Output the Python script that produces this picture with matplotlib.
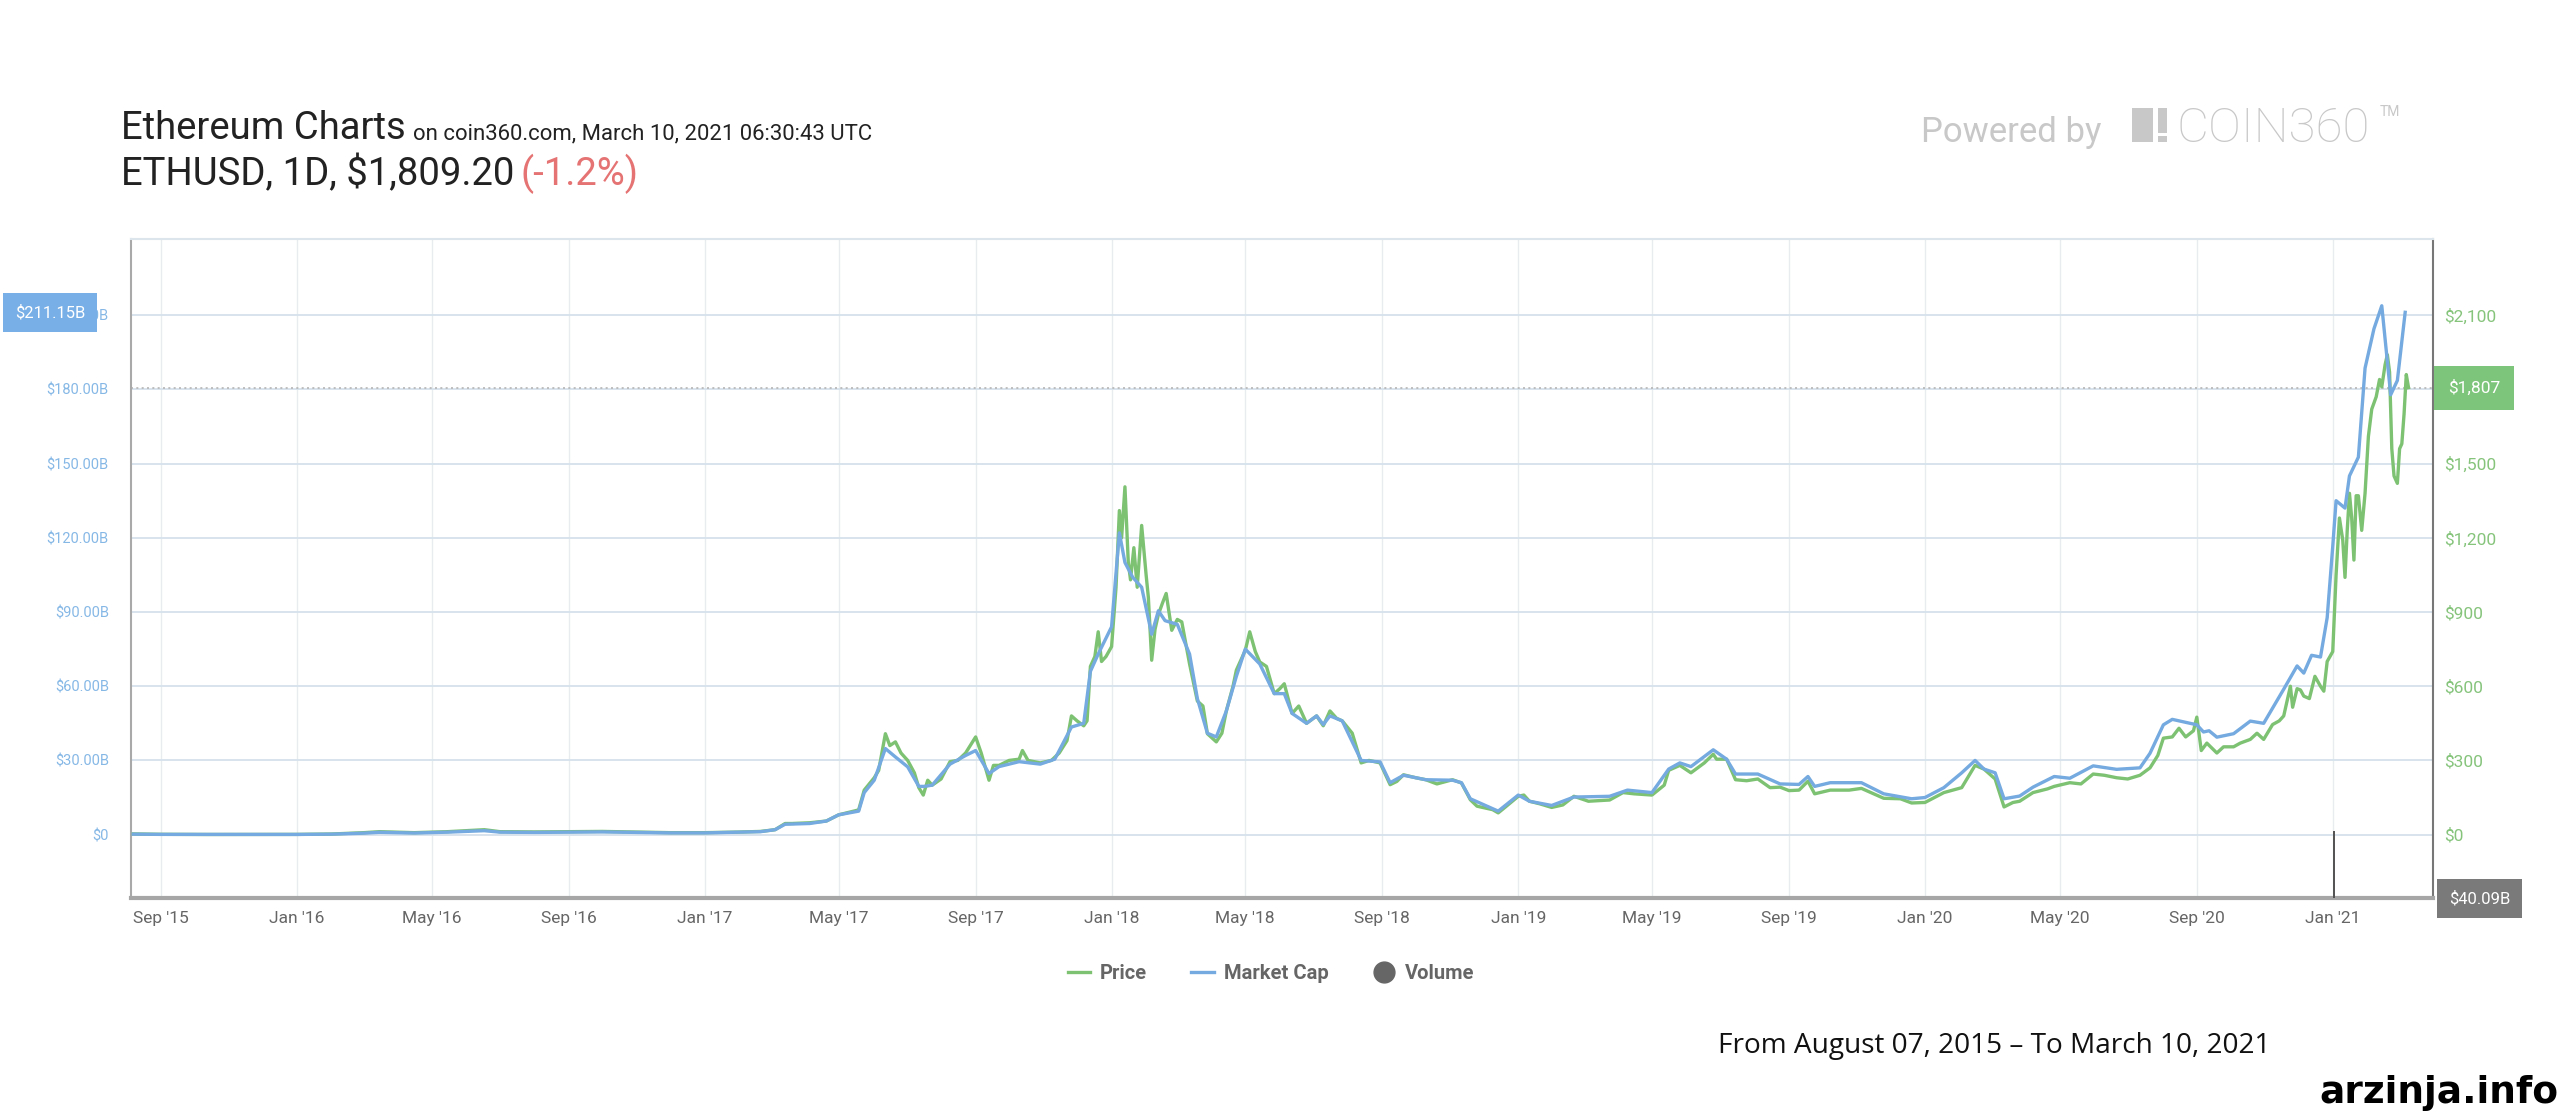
import matplotlib
matplotlib.use("Agg")
import matplotlib.pyplot as plt
import matplotlib.dates as mdates
import matplotlib.transforms as mtransforms
from matplotlib.lines import Line2D
from matplotlib.patches import Rectangle
import pandas as pd

plt.rcParams['font.family'] = ['Roboto', 'DejaVu Sans']

# price in USD (green, right axis)
price_dates = [
    "2015-08-07", "2015-09-01", "2015-10-15", "2015-12-01", "2016-01-01", "2016-02-01", "2016-03-01",
    "2016-03-15", "2016-04-15", "2016-05-15", "2016-06-17", "2016-07-01", "2016-08-01", "2016-09-01",
    "2016-10-01", "2016-11-01", "2016-12-01", "2017-01-01", "2017-02-01", "2017-02-20", "2017-03-05",
    "2017-03-14", "2017-03-20", "2017-04-05", "2017-04-20", "2017-05-01", "2017-05-10", "2017-05-19",
    "2017-05-24", "2017-06-02", "2017-06-06", "2017-06-12", "2017-06-16", "2017-06-21", "2017-06-26",
    "2017-07-02", "2017-07-08", "2017-07-12", "2017-07-16", "2017-07-20", "2017-07-24", "2017-08-01",
    "2017-08-09", "2017-08-16", "2017-08-23", "2017-09-01", "2017-09-06", "2017-09-13", "2017-09-17",
    "2017-09-22", "2017-10-01", "2017-10-10", "2017-10-13", "2017-10-18", "2017-10-29", "2017-11-08",
    "2017-11-15", "2017-11-22", "2017-11-26", "2017-12-01", "2017-12-07", "2017-12-10", "2017-12-13",
    "2017-12-17", "2017-12-20", "2017-12-23", "2017-12-27", "2018-01-01", "2018-01-05", "2018-01-08",
    "2018-01-10", "2018-01-13", "2018-01-16", "2018-01-18", "2018-01-21", "2018-01-24", "2018-01-28",
    "2018-02-01", "2018-02-03", "2018-02-06", "2018-02-09", "2018-02-12", "2018-02-16", "2018-02-19",
    "2018-02-24", "2018-03-01", "2018-03-05", "2018-03-12", "2018-03-19", "2018-03-24", "2018-03-28",
    "2018-04-05", "2018-04-10", "2018-04-14", "2018-04-20", "2018-04-23", "2018-05-01", "2018-05-05",
    "2018-05-10", "2018-05-14", "2018-05-20", "2018-05-27", "2018-06-01", "2018-06-05", "2018-06-12",
    "2018-06-18", "2018-06-25", "2018-07-04", "2018-07-10", "2018-07-16", "2018-07-22", "2018-07-27",
    "2018-08-05", "2018-08-13", "2018-08-20", "2018-08-30", "2018-09-08", "2018-09-14", "2018-09-20",
    "2018-10-01", "2018-10-10", "2018-10-20", "2018-11-03", "2018-11-11", "2018-11-19", "2018-11-25",
    "2018-12-09", "2018-12-14", "2018-12-20", "2019-01-01", "2019-01-06", "2019-01-11", "2019-01-20",
    "2019-01-31", "2019-02-10", "2019-02-20", "2019-03-05", "2019-03-24", "2019-04-05", "2019-04-15",
    "2019-05-01", "2019-05-12", "2019-05-16", "2019-05-26", "2019-06-05", "2019-06-17", "2019-06-25",
    "2019-06-28", "2019-07-07", "2019-07-15", "2019-07-25", "2019-08-04", "2019-08-15", "2019-08-24",
    "2019-09-01", "2019-09-10", "2019-09-18", "2019-09-24", "2019-10-08", "2019-10-25", "2019-11-05",
    "2019-11-25", "2019-12-10", "2019-12-20", "2020-01-01", "2020-01-18", "2020-02-03", "2020-02-15",
    "2020-02-23", "2020-03-04", "2020-03-12", "2020-03-20", "2020-03-26", "2020-04-07", "2020-04-20",
    "2020-04-26", "2020-05-10", "2020-05-20", "2020-05-31", "2020-06-10", "2020-06-21", "2020-07-01",
    "2020-07-12", "2020-07-21", "2020-07-28", "2020-08-02", "2020-08-10", "2020-08-16", "2020-08-22",
    "2020-08-29", "2020-09-01", "2020-09-05", "2020-09-10", "2020-09-19", "2020-09-25", "2020-10-04",
    "2020-10-10", "2020-10-19", "2020-10-25", "2020-10-31", "2020-11-08", "2020-11-14", "2020-11-18",
    "2020-11-24", "2020-11-26", "2020-11-30", "2020-12-03", "2020-12-06", "2020-12-11", "2020-12-16",
    "2020-12-21", "2020-12-24", "2020-12-27", "2021-01-01", "2021-01-04", "2021-01-07", "2021-01-10",
    "2021-01-12", "2021-01-14", "2021-01-16", "2021-01-18", "2021-01-20", "2021-01-22", "2021-01-24",
    "2021-01-27", "2021-01-30", "2021-02-02", "2021-02-05", "2021-02-09", "2021-02-12", "2021-02-14",
    "2021-02-17", "2021-02-19", "2021-02-21", "2021-02-23", "2021-02-25", "2021-02-28", "2021-03-02",
    "2021-03-04", "2021-03-06", "2021-03-08", "2021-03-10",
]
price_vals = [
    3, 1.3, 0.6, 0.9, 1, 2.5, 8,
    12, 8, 12, 20, 12, 11, 12,
    13, 10.5, 8, 8, 10.5, 13, 20,
    45, 45, 48, 55, 80, 90, 100,
    180, 230, 260, 408, 360, 375, 330,
    300, 250, 190, 160, 220, 200, 225,
    295, 300, 330, 395, 330, 220, 280,
    280, 300, 305, 340, 300, 290, 300,
    330, 380, 480, 460, 440, 460, 680,
    720, 820, 700, 720, 760, 1000, 1310,
    1200, 1406, 1100, 1030, 1160, 1000, 1250,
    1050, 960, 705, 830, 890, 940, 975,
    826, 870, 860, 690, 540, 520, 408,
    375, 410, 500, 600, 665, 745, 820,
    740, 698, 680, 570, 590, 610, 490,
    520, 450, 480, 440, 500, 470, 460,
    410, 290, 300, 290, 202, 215, 242,
    230, 222, 205, 222, 209, 141, 115,
    101, 88, 110, 155, 160, 135, 125,
    110, 120, 155, 135, 140, 170, 165,
    160, 200, 260, 280, 250, 290, 325,
    305, 305, 222, 218, 225, 190, 192,
    178, 180, 216, 165, 180, 180, 187,
    147, 145, 128, 130, 170, 190, 280,
    265, 225, 112, 130, 135, 170, 185,
    195, 210, 205, 245, 240, 230, 225,
    240, 270, 320, 390, 395, 430, 395,
    420, 475, 340, 370, 330, 355, 355,
    370, 385, 410, 385, 445, 460, 480,
    600, 515, 590, 585, 560, 550, 640,
    600, 580, 700, 740, 1050, 1280, 1190,
    1040, 1230, 1380, 1280, 1110, 1370, 1370,
    1230, 1380, 1610, 1720, 1770, 1840, 1810,
    1900, 1940, 1870, 1560, 1450, 1420, 1560,
    1580, 1700, 1860, 1807,
]

# market cap in billions USD (blue, left axis)
cap_dates = [
    "2015-08-07", "2015-09-01", "2015-11-01", "2016-01-01", "2016-02-01", "2016-03-01", "2016-03-15",
    "2016-04-15", "2016-05-15", "2016-06-17", "2016-07-01", "2016-08-01", "2016-09-01", "2016-10-01",
    "2016-11-01", "2016-12-01", "2017-01-01", "2017-02-01", "2017-02-20", "2017-03-05", "2017-03-14",
    "2017-04-05", "2017-04-20", "2017-05-01", "2017-05-19", "2017-05-24", "2017-06-02", "2017-06-12",
    "2017-06-21", "2017-07-02", "2017-07-12", "2017-07-17", "2017-07-24", "2017-08-09", "2017-08-23",
    "2017-09-01", "2017-09-13", "2017-09-22", "2017-10-10", "2017-10-29", "2017-11-11", "2017-11-26",
    "2017-12-07", "2017-12-13", "2017-12-20", "2018-01-01", "2018-01-08", "2018-01-13", "2018-01-20",
    "2018-01-28", "2018-02-06", "2018-02-12", "2018-02-18", "2018-03-01", "2018-03-12", "2018-03-19",
    "2018-03-28", "2018-04-05", "2018-04-14", "2018-04-23", "2018-05-01", "2018-05-14", "2018-05-27",
    "2018-06-05", "2018-06-12", "2018-06-25", "2018-07-04", "2018-07-10", "2018-07-16", "2018-07-27",
    "2018-08-13", "2018-08-30", "2018-09-08", "2018-09-20", "2018-10-10", "2018-11-03", "2018-11-11",
    "2018-11-19", "2018-12-09", "2018-12-14", "2019-01-01", "2019-01-11", "2019-01-31", "2019-02-20",
    "2019-03-24", "2019-04-09", "2019-05-01", "2019-05-16", "2019-05-26", "2019-06-05", "2019-06-25",
    "2019-07-07", "2019-07-15", "2019-08-04", "2019-08-24", "2019-09-10", "2019-09-18", "2019-09-24",
    "2019-10-08", "2019-11-05", "2019-11-25", "2019-12-20", "2020-01-01", "2020-01-18", "2020-02-03",
    "2020-02-15", "2020-02-23", "2020-03-04", "2020-03-12", "2020-03-26", "2020-04-07", "2020-04-26",
    "2020-05-10", "2020-05-31", "2020-06-21", "2020-07-12", "2020-07-21", "2020-08-02", "2020-08-10",
    "2020-09-01", "2020-09-07", "2020-09-12", "2020-09-19", "2020-10-04", "2020-10-19", "2020-10-31",
    "2020-11-18", "2020-11-30", "2020-12-06", "2020-12-13", "2020-12-21", "2020-12-27", "2021-01-01",
    "2021-01-04", "2021-01-12", "2021-01-16", "2021-01-24", "2021-01-30", "2021-02-07", "2021-02-14",
    "2021-02-22", "2021-02-28", "2021-03-07",
]
cap_vals = [
    0.2, 0.1, 0.07, 0.08, 0.2, 0.6, 0.95,
    0.65, 1.0, 1.6, 1.0, 0.9, 1.0, 1.1,
    0.9, 0.7, 0.7, 1.0, 1.2, 2.0, 4.2,
    4.5, 5.5, 8.0, 9.5, 17, 22, 34.8,
    31.4, 27.4, 19.5, 19.5, 20, 28.5, 32,
    34, 24.7, 27.5, 29.5, 28.5, 30.5, 43.5,
    45, 66, 73, 84, 122, 110, 104,
    100, 81, 90.5, 86.5, 85, 73, 55,
    41, 39.5, 50, 64, 75, 69, 57,
    57, 49, 45, 48, 44.5, 48, 46,
    30, 29.4, 21, 24, 22.2, 22, 21,
    14.5, 10.5, 9.5, 16, 13.5, 11.8, 15.2,
    15.5, 18, 17, 26.5, 29, 27.5, 34.3,
    30.5, 24.5, 24.5, 20.5, 20.3, 23.5, 19.5,
    21, 21, 16.5, 14.5, 15, 19, 25,
    30, 26.5, 25, 14.5, 15.6, 19.2, 23.5,
    22.8, 27.8, 26.4, 27, 32.9, 44.4, 46.6,
    44.4, 41.5, 42, 39.4, 40.8, 45.9, 45,
    58.8, 68.2, 65.3, 72.5, 71.8, 87.7, 116.5,
    135, 132, 145, 152.6, 188.6, 204.5, 213.8,
    177.8, 183.6, 211.15,
]

# volume in billions USD
vol_dates = ["2021-01-02"]
vol_vals = [58.4]

last_price = 1807
last_cap = 211.15
last_vol = 40.09

price_ticks = [0, 300, 600, 900, 1200, 1500, 1800, 2100]
cap_ticks = [0, 30, 60, 90, 120, 150, 180, 210]

GREEN = '#7DC173'
BLUE = '#74AADF'

fig = plt.figure(figsize=(25.6, 11.2), dpi=100)
ax_p = fig.add_axes([0.0512, 0.1978, 0.8992, 0.5884])
ax_v = ax_p.twinx()
ax_c = ax_p.twinx()

pd_price = pd.to_datetime(price_dates)
pd_cap = pd.to_datetime(cap_dates)
pd_vol = pd.to_datetime(vol_dates)

ln_p, = ax_p.plot(pd_price, price_vals, color=GREEN, lw=2.4, solid_joinstyle='round', zorder=3)
ax_v.bar(pd_vol, vol_vals, width=1.5, color='#555555', zorder=2)
ln_c, = ax_c.plot(pd_cap, cap_vals, color=BLUE, lw=2.4, solid_joinstyle='round', zorder=3)

ax_p.set_xlim(pd.Timestamp("2015-08-05"), pd.Timestamp("2021-04-01"))
ax_p.set_ylim(-258, 2406)
ax_c.set_ylim(-25.8, 240.6)
ax_v.set_ylim(0, max(vol_vals) * 9.7)

ax_p.xaxis.set_major_locator(mdates.MonthLocator(bymonth=[1, 5, 9]))
ax_p.xaxis.set_major_formatter(mdates.DateFormatter("%b '%y"))
ax_p.tick_params(axis='x', length=0, pad=9, labelsize=12.5, labelcolor='#666666')

ax_p.yaxis.tick_right()
ax_p.set_yticks(price_ticks)
ax_p.set_yticklabels(["${:,.0f}".format(v) for v in price_ticks])
ax_p.tick_params(axis='y', length=0, pad=8, labelsize=12.5, labelcolor='#86C47C')

ax_c.yaxis.tick_left()
ax_c.set_yticks(cap_ticks)
ax_c.set_yticklabels(["$0" if v == 0 else "${:.2f}B".format(v) for v in cap_ticks])
ax_c.tick_params(axis='y', length=0, pad=16, labelsize=10.5, labelcolor='#86B8E6')

ax_v.set_yticks([])

ax_p.grid(axis='y', color='#D5E1EC', lw=1.3)
ax_p.grid(axis='x', color='#E9ECEF', lw=1.0)
ax_p.set_axisbelow(True)

for a in (ax_v, ax_c):
    for s in a.spines.values():
        s.set_visible(False)
ax_p.spines['left'].set_color('#A9A9A9')
ax_p.spines['left'].set_linewidth(1.5)
ax_p.spines['bottom'].set_color('#A6A6A6')
ax_p.spines['bottom'].set_linewidth(3)
ax_p.spines['right'].set_color('#777777')
ax_p.spines['right'].set_linewidth(1.5)
ax_p.spines['top'].set_color('#DCE5EC')
ax_p.spines['top'].set_linewidth(1.5)

# current price line
ax_p.axhline(last_price, color='#B5B5B5', ls=(0, (1.2, 2)), lw=1.2, zorder=1)

# value boxes
tr_left = mtransforms.blended_transform_factory(fig.transFigure, ax_c.transData)
ax_c.text(0.0195, last_cap, "${:.2f}B".format(last_cap), transform=tr_left, ha='center', va='center',
          color='white', fontsize=12, clip_on=False, zorder=10,
          bbox=dict(boxstyle='square,pad=0.72', fc='#78AFE6', ec='none'))
tr_right = mtransforms.blended_transform_factory(ax_p.transAxes, ax_p.transData)
ax_p.text(1.018, last_price, "${:,.0f}".format(last_price), transform=tr_right, ha='center', va='center',
          color='white', fontsize=12.5, clip_on=False, zorder=10,
          bbox=dict(boxstyle='square,pad=0.8', fc='#7DC57A', ec='none'))
ax_p.text(1.0203, 0.0, "${:.2f}B".format(last_vol), transform=ax_p.transAxes, ha='center', va='center',
          color='white', fontsize=12, clip_on=False, zorder=10,
          bbox=dict(boxstyle='square,pad=0.72', fc='#7A7A7A', ec='none'))

# legend
vol_handle = Line2D([], [], ls='', marker='o', markersize=15, color='#666666')
leg = fig.legend([ln_p, ln_c, vol_handle], ["Price", "Market Cap", "Volume"], loc='center',
                 bbox_to_anchor=(0.4965, 0.131), ncol=3, frameon=False, handlelength=1.1,
                 handletextpad=0.5, columnspacing=2.2, prop={'weight': 'bold', 'size': 14.5})
for t in leg.get_texts():
    t.set_color('#666666')

# header
fig.text(0.0473, 0.8759, "Ethereum Charts", fontsize=27.5, color='#222222', va='baseline')
fig.text(0.1614, 0.8759, "on coin360.com, March 10, 2021 06:30:43 UTC", fontsize=15.9, color='#222222', va='baseline')
fig.text(0.0473, 0.8348, "ETHUSD, 1D, $1,809.20", fontsize=27.5, color='#222222', va='baseline')
fig.text(0.2035, 0.8348, "(-1.2%)", fontsize=27.5, color='#E57373', va='baseline')

fig.text(0.7504, 0.8732, "Powered by", fontsize=25, color='#C8C8C8', va='baseline')
fig.patches.append(Rectangle((2132 / 2560, 1 - 142 / 1120), 21 / 2560, 34 / 1120,
                             transform=fig.transFigure, fc='#C8C8C8', ec='none'))
fig.patches.append(Rectangle((2158 / 2560, 1 - 133 / 1120), 9 / 2560, 25 / 1120,
                             transform=fig.transFigure, fc='#C8C8C8', ec='none'))
fig.patches.append(Rectangle((2158 / 2560, 1 - 142 / 1120), 9 / 2560, 6 / 1120,
                             transform=fig.transFigure, fc='#C8C8C8', ec='none'))
fig.text(2176 / 2560, 0.8732, "COIN360", fontsize=35.5, color='#C8C8C8', va='baseline', fontweight='light')
fig.text(2380 / 2560, 1 - 116 / 1120, "TM", fontsize=10, color='#C8C8C8', va='baseline')

fig.text(1718 / 2560, 0.0598, "From August 07, 2015 \u2013 To March 10, 2021", fontsize=20.2,
         color='#111111', va='baseline', family=['Open Sans', 'DejaVu Sans'])
fig.text(0.9995, 0.0152, "arzinja.info", fontsize=27, color='black', fontweight='bold', ha='right',
         va='baseline', family=['DejaVu Sans'])

fig.savefig("out.png", dpi=100)
